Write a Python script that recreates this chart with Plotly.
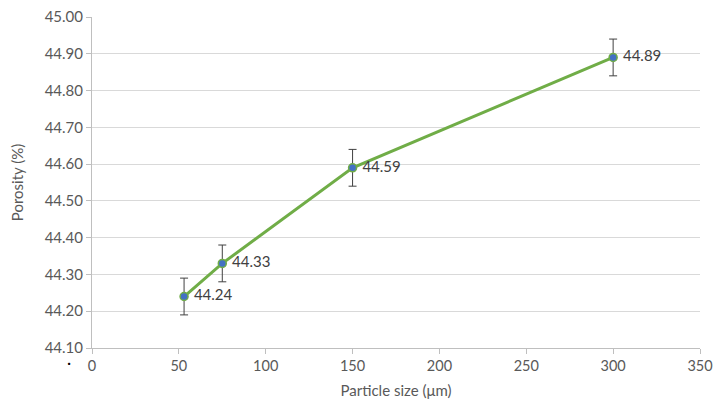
import plotly.graph_objects as go

particle_size = [53, 75, 150, 300]
porosity = [44.24, 44.33, 44.59, 44.89]
error = [0.05, 0.05, 0.05, 0.05]
labels = ["44.24", "44.33", "44.59", "44.89"]
y_ticks = [44.10 + 0.1 * i for i in range(10)]
y_tick_text = ["%.2f" % v for v in y_ticks]
x_ticks = [0, 50, 100, 150, 200, 250, 300, 350]

font_family = "Lato, 'Open Sans', sans-serif"

fig = go.Figure()
fig.add_trace(go.Scatter(
    x=particle_size, y=porosity,
    mode="lines+markers+text",
    text=[" " + t for t in labels], textposition="middle right",
    textfont=dict(family=font_family, size=15, color="#404040"),
    line=dict(color="#70AD47", width=3),
    marker=dict(color="#4472C4", size=8, line=dict(color="#70AD47", width=1.5)),
    error_y=dict(type="data", array=error, visible=True, color="#404040", thickness=1, width=4),
    cliponaxis=False,
    showlegend=False,
))

# the browser's default 8px body margin shifts the figure; size it so the
# page fits the 721x407 window without overflow
fig.update_layout(
    width=705, height=391,
    margin=dict(l=84, r=13, t=9, b=51),
    paper_bgcolor="white", plot_bgcolor="white",
    font=dict(family=font_family, size=15, color="#595959"),
    xaxis=dict(
        range=[0, 350], tickvals=x_ticks, showgrid=False, automargin=False,
        ticklabeloverflow="allow", tickfont=dict(size=14.5),
        showline=True, linecolor="#BFBFBF", linewidth=1,
        ticks="outside", ticklen=5, tickcolor="#BFBFBF",
        zeroline=False,
        title=dict(text="Particle size (μm)", font=dict(size=15, color="#595959"), standoff=15),
    ),
    yaxis=dict(
        range=[44.10, 45.00], tickvals=y_ticks, ticktext=y_tick_text, automargin=False,
        ticklabeloverflow="allow",
        showgrid=True, gridcolor="#D9D9D9", gridwidth=1,
        showline=True, linecolor="#BFBFBF", linewidth=1,
        ticks="outside", ticklen=5, tickcolor="#BFBFBF",
        zeroline=False,
        title=dict(text="Porosity (%)", font=dict(size=15, color="#595959"), standoff=17),
    ),
)

fig.add_annotation(xref="paper", yref="paper", x=-0.045, y=-0.075, text="·", showarrow=False,
                   font=dict(size=16, color="#000000"))

fig.write_html("out.html")
